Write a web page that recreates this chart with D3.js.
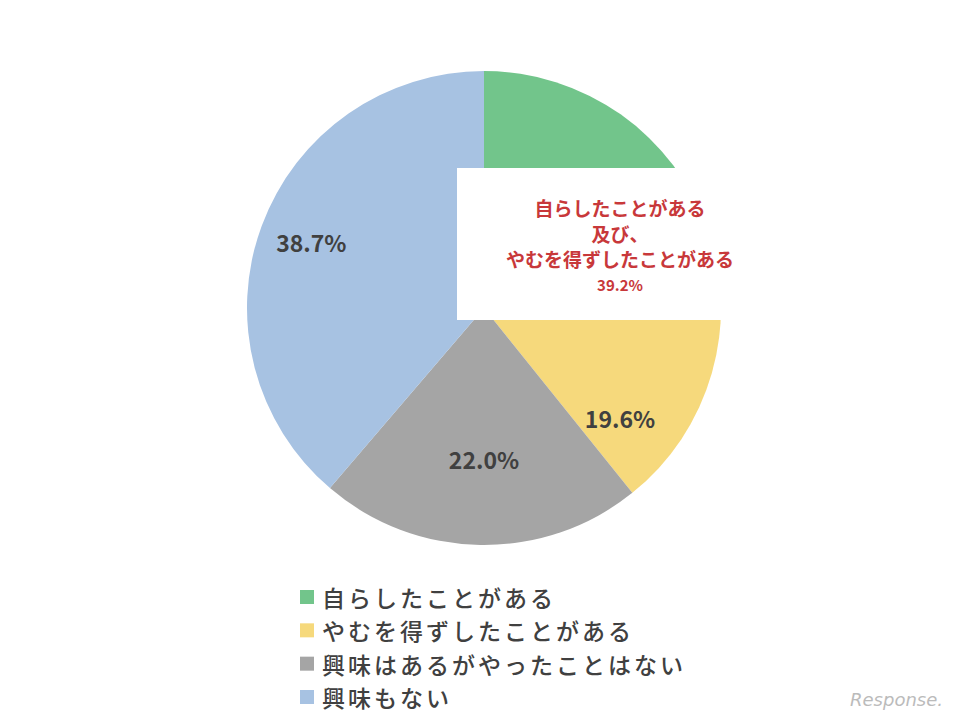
<!DOCTYPE html>
<html><head><meta charset="utf-8">
<script src="https://cdn.jsdelivr.net/npm/d3@7"></script>
<style>body{margin:0;background:#fff}</style></head>
<body><svg id="c" width="968" height="726"></svg>
<script>
const categories=["自らしたことがある","やむを得ずしたことがある","興味はあるがやったことはない","興味もない"];
const values=[19.6,19.6,22.0,38.7];
const colors=["#72c58b","#f6d97c","#a5a5a5","#a7c2e2"];
const labelText=[null,"19.6%","22.0%","38.7%"];
const labelAngleDeg=[0,129,180,291];
const labelRadius=[0,175,151,185];
const boxLines=["自らしたことがある","及び、","やむを得ずしたことがある","39.2%"];

const svg=d3.select("#c");
const cx=484,cy=308,R=237;
const g=svg.append("g").attr("transform",`translate(${cx},${cy})`);
const pie=d3.pie().sort(null).value(d=>d)(values);
const arc=d3.arc().innerRadius(0).outerRadius(R);
g.selectAll("path").data(pie).join("path").attr("d",arc).attr("fill",(d,i)=>colors[i]);
g.append("rect").attr("x",457-cx).attr("y",168-cy).attr("width",265).attr("height",152).attr("fill","#fff");
const font="'Noto Sans CJK JP','Noto Sans',sans-serif";
labelText.forEach((t,i)=>{ if(!t)return;
  const a=labelAngleDeg[i]*Math.PI/180;
  g.append("text").attr("x",labelRadius[i]*Math.sin(a)).attr("y",-labelRadius[i]*Math.cos(a))
   .attr("text-anchor","middle").attr("dominant-baseline","central")
   .attr("font-family",font).attr("font-weight","bold").attr("font-size",23).attr("fill","#404040").text(t);
});
const by=[207,233,258,284];
boxLines.forEach((t,i)=>{
  svg.append("text").attr("x",620).attr("y",by[i]).attr("text-anchor","middle").attr("dominant-baseline","central")
   .attr("font-family",font).attr("font-weight","bold").attr("font-size",i==3?15:19).attr("fill","#c8383a").text(t);
});
const ly=d3.scalePoint().domain(categories).range([597,697]);
categories.forEach((c,i)=>{
  svg.append("rect").attr("x",300).attr("y",ly(c)-7).attr("width",14).attr("height",14).attr("fill",colors[i]);
  svg.append("text").attr("x",322).attr("y",ly(c)).attr("dominant-baseline","central")
   .attr("font-family",font).attr("font-weight",500).attr("font-size",23).attr("fill","#404040").attr("letter-spacing",3).text(c);
});
svg.append("text").attr("x",850).attr("y",706).attr("font-family","'DejaVu Sans',sans-serif").attr("font-style","italic")
 .attr("font-size",18).attr("fill","#bbb").text("Response.");
</script></body></html>
